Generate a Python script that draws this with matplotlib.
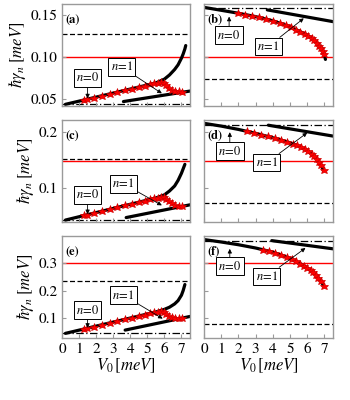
import matplotlib
matplotlib.use("Agg")
import matplotlib.pyplot as plt

plt.rcParams['font.family'] = ['STIXGeneral', 'DejaVu Serif']
plt.rcParams['mathtext.fontset'] = 'stix'

# ---------------- data ----------------
# panel (a)
a_n0x = [0.2, 1.0, 2.0, 3.0, 4.0, 5.0, 5.5, 6.0, 6.3, 6.6, 6.8, 7.0, 7.1, 7.2, 7.25]
a_n0y = [0.0435, 0.0473, 0.0521, 0.0569, 0.0617, 0.0665, 0.0690, 0.0735, 0.0785, 0.0850, 0.0905, 0.0985, 0.1035, 0.1095, 0.1135]
a_n1x = [3.6, 7.5]
a_n1y = [0.0468, 0.0593]
a_sx = [1.3, 1.45, 1.9, 2.35, 2.8, 3.25, 3.7, 4.1, 4.5, 4.85, 5.15, 5.4, 5.6, 5.8, 5.95, 6.1, 6.25, 6.45, 6.65, 6.85, 7.05]
a_sy = [0.0487, 0.0495, 0.0516, 0.0538, 0.0560, 0.0581, 0.0603, 0.0622, 0.0641, 0.0658, 0.0672, 0.0684, 0.0694, 0.0703, 0.0690, 0.0665, 0.0630, 0.0605, 0.0592, 0.0588, 0.0585]
# panel (b)
b_n0x = [0.0, 1.0, 2.0, 3.0, 4.0, 5.0, 5.5, 6.0, 6.3, 6.5, 6.7, 6.85, 6.95, 7.02, 7.06]
b_n0y = [0.159, 0.1555, 0.152, 0.148, 0.143, 0.136, 0.131, 0.126, 0.1215, 0.118, 0.1135, 0.109, 0.105, 0.101, 0.097]
b_n1x = [3.68, 7.5]
b_n1y = [0.156, 0.142]
b_sx = [2.0, 2.4, 2.8, 3.2, 3.6, 4.0, 4.4, 4.75, 5.05, 5.35, 5.6, 5.85, 6.05, 6.25, 6.4, 6.55, 6.7, 6.82, 6.92, 6.98]
b_sy = [0.152, 0.1504, 0.1488, 0.147, 0.145, 0.143, 0.1405, 0.138, 0.1355, 0.1325, 0.130, 0.1275, 0.1253, 0.1223, 0.1198, 0.117, 0.1135, 0.110, 0.1065, 0.1035]
# panel (c)
c_n0x = [0.2, 1.0, 2.0, 3.0, 4.0, 5.0, 5.5, 6.0, 6.3, 6.6, 6.8, 7.0, 7.1, 7.2]
c_n0y = [0.0415, 0.0475, 0.055, 0.0625, 0.070, 0.0775, 0.0813, 0.087, 0.094, 0.103, 0.113, 0.126, 0.134, 0.142]
c_n1x = [3.76, 7.5]
c_n1y = [0.046, 0.069]
c_sx = a_sx
c_sy = [0.0498, 0.0509, 0.0543, 0.0576, 0.0610, 0.0644, 0.0678, 0.0708, 0.0738, 0.0764, 0.0786, 0.0805, 0.0820, 0.0835, 0.0825, 0.0790, 0.0755, 0.0715, 0.0690, 0.0675, 0.0668]
# panel (d)
d_n0x = [0.0, 1.0, 2.0, 3.0, 4.0, 5.0, 5.5, 6.0, 6.3, 6.6, 6.8, 6.96]
d_n0y = [0.216, 0.211, 0.205, 0.198, 0.190, 0.181, 0.175, 0.167, 0.160, 0.150, 0.141, 0.131]
d_n1x = [3.74, 7.5]
d_n1y = [0.2126, 0.193]
d_sx = [2.5, 2.9, 3.3, 3.7, 4.1, 4.5, 4.85, 5.15, 5.4, 5.65, 5.85, 6.05, 6.25, 6.4, 6.55, 6.7, 6.82, 6.96]
d_sy = [0.2015, 0.1988, 0.1958, 0.1925, 0.1892, 0.1856, 0.1823, 0.1792, 0.1762, 0.1728, 0.1697, 0.166, 0.1615, 0.1575, 0.1525, 0.147, 0.1415, 0.131]
# panel (e)
e_n0x = [0.2, 1.0, 2.0, 3.0, 4.0, 5.0, 5.5, 6.0, 6.3, 6.6, 6.8, 7.0, 7.1, 7.2]
e_n0y = [0.043, 0.0548, 0.0696, 0.0844, 0.0992, 0.114, 0.1214, 0.131, 0.139, 0.151, 0.163, 0.183, 0.200, 0.222]
e_n1x = [3.7, 7.5]
e_n1y = [0.055, 0.105]
e_sx = a_sx
e_sy = [0.0592, 0.0615, 0.0681, 0.0748, 0.0814, 0.0881, 0.0948, 0.1007, 0.1066, 0.1118, 0.1162, 0.1199, 0.1229, 0.1245, 0.121, 0.115, 0.108, 0.102, 0.0995, 0.0985, 0.099]
# panel (f)
f_n0x = [0.0, 1.0, 2.0, 3.0, 4.0, 5.0, 5.5, 6.0, 6.3, 6.57, 6.8, 6.96]
f_n0y = [0.387, 0.378, 0.368, 0.356, 0.341, 0.318, 0.302, 0.283, 0.270, 0.252, 0.236, 0.216]
f_n1x = [3.94, 7.5]
f_n1y = [0.383, 0.353]
f_sx = [3.45, 3.8, 4.15, 4.5, 4.8, 5.1, 5.35, 5.6, 5.8, 6.0, 6.2, 6.35, 6.5, 6.65, 6.8, 6.96]
f_sy = [0.350, 0.3445, 0.3375, 0.330, 0.3225, 0.3148, 0.307, 0.2985, 0.291, 0.283, 0.274, 0.2665, 0.2565, 0.2475, 0.236, 0.216]

# horizontal reference lines: red, dashed, dash-dot
hl_red = {'a': 0.10, 'b': 0.10, 'c': 0.148, 'd': 0.148, 'e': 0.30, 'f': 0.30}
hl_dash = {'a': 0.127, 'b': 0.0735, 'c': 0.152, 'd': 0.072, 'e': 0.235, 'f': 0.076}
hl_dd = {'a': 0.0436, 'b': 0.158, 'c': 0.042, 'd': 0.213, 'e': 0.045, 'f': 0.383}

ylims = [(0.0415, 0.163), (0.038, 0.222), (0.026, 0.40)]
yticks = [[0.05, 0.10, 0.15], [0.1, 0.2], [0.1, 0.2, 0.3]]
yticklabels = [["0.05", "0.10", "0.15"], ["0.1", "0.2"], ["0.1", "0.2", "0.3"]]
xticks = [0, 1, 2, 3, 4, 5, 6, 7]

# annotation positions: (text x, text y, arrow x, arrow y)
ann0 = {'a': (1.5, 0.075, 1.5, 0.0505), 'c': (1.5, 0.087, 1.5, 0.052), 'e': (1.5, 0.128, 1.5, 0.063),
        'b': (1.46, 0.126, 1.46, 0.148), 'd': (1.5, 0.166, 1.5, 0.200), 'f': (1.5, 0.29, 1.5, 0.353)}
ann1 = {'a': (3.5, 0.088, 5.85, 0.0565), 'c': (3.6, 0.107, 5.85, 0.068), 'e': (3.6, 0.183, 5.9, 0.097),
        'b': (3.74, 0.1124, 5.8, 0.146), 'd': (3.65, 0.145, 6.0, 0.199), 'f': (3.65, 0.252, 5.9, 0.356)}

panels = {
    'a': (a_n0x, a_n0y, a_n1x, a_n1y, a_sx, a_sy),
    'b': (b_n0x, b_n0y, b_n1x, b_n1y, b_sx, b_sy),
    'c': (c_n0x, c_n0y, c_n1x, c_n1y, c_sx, c_sy),
    'd': (d_n0x, d_n0y, d_n1x, d_n1y, d_sx, d_sy),
    'e': (e_n0x, e_n0y, e_n1x, e_n1y, e_sx, e_sy),
    'f': (f_n0x, f_n0y, f_n1x, f_n1y, f_sx, f_sy),
}

fig = plt.figure(figsize=(3.5, 4.0), dpi=100)
W, H = 350.0, 400.0
col_x = [(62, 128), (204, 129)]
row_y = [(4, 106), (120, 222), (236, 338)]
names = [['a', 'b'], ['c', 'd'], ['e', 'f']]
spine_col = '#9a9a9a'

for r in range(3):
    for c in range(2):
        key = names[r][c]
        x0, w = col_x[c]
        t, b = row_y[r]
        ax = fig.add_axes([x0 / W, 1 - b / H, w / W, (b - t) / H])
        n0x, n0y, n1x, n1y, sx, sy = panels[key]
        ax.axhline(hl_red[key], color='red', lw=1.0, zorder=1)
        ax.axhline(hl_dash[key], color='black', lw=0.9, ls=(0, (4, 2)), zorder=1)
        ax.axhline(hl_dd[key], color='black', lw=0.9, ls=(0, (6, 2, 1, 2)), zorder=1)
        ax.plot(n0x, n0y, color='black', lw=2.3, solid_capstyle='round', zorder=2)
        ax.plot(n1x, n1y, color='black', lw=2.3, solid_capstyle='round', zorder=2)
        ax.plot(sx, sy, ls='none', marker='*', ms=6.2, color='red', mec='#d00000', mew=0.5, zorder=3)
        ax.set_xlim(0, 7.5)
        ax.set_ylim(*ylims[r])
        ax.set_xticks(xticks)
        ax.set_yticks(yticks[r])
        if c == 0:
            ax.set_yticklabels(yticklabels[r])
            ax.set_ylabel(r'$\hbar\gamma_n\;[meV]$', fontsize=12, labelpad=2)
        else:
            ax.set_yticklabels([])
        if r == 2:
            ax.set_xticklabels([str(v) for v in xticks])
            ax.set_xlabel(r'$V_0\,[meV]$', fontsize=12, labelpad=1)
        else:
            ax.set_xticklabels([])
        ax.tick_params(direction='in', length=3, width=0.8, color=spine_col,
                       labelsize=11, pad=3)
        for s in ax.spines.values():
            s.set_color(spine_col)
            s.set_linewidth(1.0)
        ax.text(0.03, 0.84, '(%s)' % key, transform=ax.transAxes, fontsize=9,
                fontweight='bold', ha='left', va='center')
        bbox = dict(boxstyle='square,pad=0.18', fc='white', ec='black', lw=0.7)
        tx, ty, px, py = ann0[key]
        ax.annotate(r'$n\!=\!0$', xy=(px, py), xytext=(tx, ty), fontsize=9,
                    ha='center', va='center', bbox=bbox, zorder=5,
                    arrowprops=dict(arrowstyle='-|>', color='black', lw=0.6,
                                    mutation_scale=6, shrinkA=0, shrinkB=0))
        tx, ty, px, py = ann1[key]
        ax.annotate(r'$n\!=\!1$', xy=(px, py), xytext=(tx, ty), fontsize=9,
                    ha='center', va='center', bbox=bbox, zorder=5,
                    arrowprops=dict(arrowstyle='-|>', color='black', lw=0.6,
                                    mutation_scale=6, shrinkA=0, shrinkB=0))

fig.savefig('out.png', dpi=100)
